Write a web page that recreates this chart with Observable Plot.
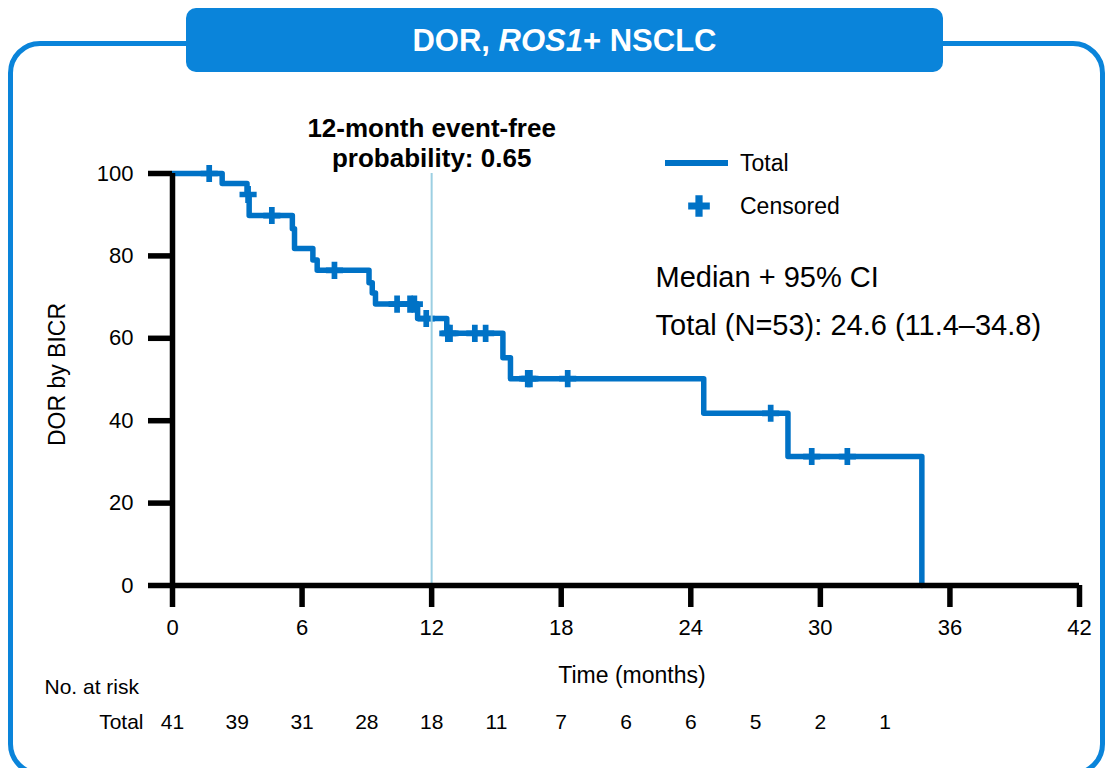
<!DOCTYPE html>
<html>
<head>
<meta charset="utf-8">
<script src="https://cdn.jsdelivr.net/npm/d3@7"></script>
<script src="https://cdn.jsdelivr.net/npm/@observablehq/plot@0.6"></script>
<style>
  html, body { margin: 0; padding: 0; background: #fff; width: 1111px; height: 768px; overflow: hidden; }
  body { position: relative; font-family: "Liberation Sans", Arial, Helvetica, sans-serif; }
  #frame { position: absolute; left: 8px; top: 41px; width: 1097px; height: 735px; box-sizing: border-box;
           border: 5px solid #0A84DA; border-radius: 32px; z-index: 0; }
  #titlebox { position: absolute; left: 186px; top: 8px; width: 757px; height: 64px; border-radius: 10px;
              background: #0A84DA; color: #fff; font-weight: bold; font-size: 31px; line-height: 66px;
              text-align: center; z-index: 3; }
  #chart { position: absolute; left: 0; top: 0; z-index: 1; }
  #legend { position: absolute; left: 0; top: 0; z-index: 2; }
</style>
</head>
<body>
<div id="frame"></div>
<div id="titlebox">DOR, <i>ROS1</i>+ NSCLC</div>
<div id="chart"></div>
<svg id="legend" width="1111" height="768"></svg>
<script>
// ---- data ----
const stepTimes = [0, 2.3, 3.45, 3.55, 5.55, 5.65, 6.5, 6.7, 9.1, 9.25, 9.4, 11.35, 12.7, 15.3, 15.65, 24.6, 28.5, 34.7];
const survival  = [100, 97.6, 94.9, 89.8, 86.6, 81.8, 79.0, 76.5, 73.5, 71.0, 68.3, 64.8, 61.2, 55.3, 50.2, 41.8, 31.3, 0];

const censorTimes  = [1.7, 3.5, 4.6, 7.5, 10.4, 11.0, 11.2, 11.75, 12.75, 12.85, 14.0, 14.5, 16.45, 16.55, 18.3, 27.7, 29.6, 31.25];
const censorValues = [100, 94.9, 89.8, 76.5, 68.3, 68.3, 68.3, 64.8, 61.2, 61.2, 61.2, 61.2, 50.2, 50.2, 50.2, 41.8, 31.3, 31.3];

const riskTimes  = [0, 3, 6, 9, 12, 15, 18, 21, 24, 27, 30, 33];
const riskCounts = [41, 39, 31, 28, 18, 11, 7, 6, 6, 5, 2, 1];

const xTicks = [0, 6, 12, 18, 24, 30, 36, 42];
const yTicks = [0, 20, 40, 60, 80, 100];
const landmark = [12];

const titleNote = "12-month event-free\nprobability: 0.65";
const medianHead = "Median + 95% CI";
const medianText = "Total (N=53): 24.6 (11.4\u201334.8)";

// ---- tables built from arrays ----
const km = stepTimes.map((t, i) => ({t, s: survival[i]}));
const cens = censorTimes.map((t, i) => ({t, s: censorValues[i]}));
const risk = riskTimes.map((t, i) => ({t, n: riskCounts[i]}));

const BLUE = "#0072C6";
const FONT = "Liberation Sans, Arial, Helvetica, sans-serif";

const chart = Plot.plot({
  width: 1111,
  height: 768,
  marginLeft: 172,
  marginRight: 32,
  marginTop: 173,
  marginBottom: 183,
  style: {fontFamily: FONT, fontSize: "22px", color: "#000", background: "transparent", overflow: "visible"},
  x: {domain: [0, 42]},
  y: {domain: [0, 100]},
  marks: [
    Plot.line(km, {x: "t", y: "s", curve: "step-after", stroke: BLUE, strokeWidth: 5.5}),
    Plot.dot(cens, {x: "t", y: "s", symbol: "cross", r: 7.2, fill: BLUE, stroke: "none"}),
    Plot.ruleX(landmark, {y1: 0, y2: 100, stroke: "#9CCFE2", strokeWidth: 2}),
    Plot.ruleX([0], {y1: 0, y2: 100, stroke: "#000", strokeWidth: 5.5}),
    Plot.ruleY([0], {x1: 0, x2: 42, stroke: "#000", strokeWidth: 5.5}),
    Plot.axisY({ticks: yTicks, tickSize: 24, tickPadding: 15, strokeWidth: 5.5, label: null, fontSize: 22, tickFormat: d => d}),
    Plot.axisX({ticks: xTicks, tickSize: 22, tickPadding: 12, strokeWidth: 5.5, label: null, fontSize: 22, tickFormat: d => d}),
    Plot.text(["DOR by BICR"], {frameAnchor: "left", textAnchor: "middle", lineAnchor: "middle", dx: -115, dy: -5, rotate: -90, fontSize: 23}),
    Plot.text(["Time (months)"], {frameAnchor: "bottom", lineAnchor: "middle", dx: 6, dy: 90, fontSize: 23}),
    Plot.text(["No. at risk"], {frameAnchor: "bottom-left", textAnchor: "start", lineAnchor: "middle", dx: -128, dy: 102, fontSize: 21}),
    Plot.text(["Total"], {frameAnchor: "bottom-left", textAnchor: "end", lineAnchor: "middle", dx: -29, dy: 137, fontSize: 21}),
    Plot.text(risk, {x: "t", text: "n", frameAnchor: "bottom", lineAnchor: "middle", dy: 137, fontSize: 21}),
    Plot.text(landmark, {x: d => d, text: () => titleNote, frameAnchor: "top", lineAnchor: "bottom", dy: -7,
                         fontWeight: "bold", fontSize: 26, lineHeight: 1.12}),
    Plot.text([medianHead], {frameAnchor: "top-left", textAnchor: "start", lineAnchor: "middle", dx: 483, dy: 104, fontSize: 29}),
    Plot.text([medianText], {frameAnchor: "top-left", textAnchor: "start", lineAnchor: "middle", dx: 483, dy: 152, fontSize: 29})
  ]
});
document.getElementById("chart").appendChild(chart);

// legend
const lg = d3.select("#legend");
lg.append("line").attr("x1", 665).attr("x2", 728).attr("y1", 163).attr("y2", 163)
  .attr("stroke", BLUE).attr("stroke-width", 6);
lg.append("path").attr("transform", "translate(699,206)")
  .attr("d", d3.symbol(d3.symbolCross, 260)()).attr("fill", BLUE);
lg.append("text").attr("x", 740).attr("y", 163).attr("dy", "0.35em").attr("font-family", FONT)
  .attr("font-size", 23).text("Total");
lg.append("text").attr("x", 740).attr("y", 206).attr("dy", "0.35em").attr("font-family", FONT)
  .attr("font-size", 23).text("Censored");
</script>
</body>
</html>
